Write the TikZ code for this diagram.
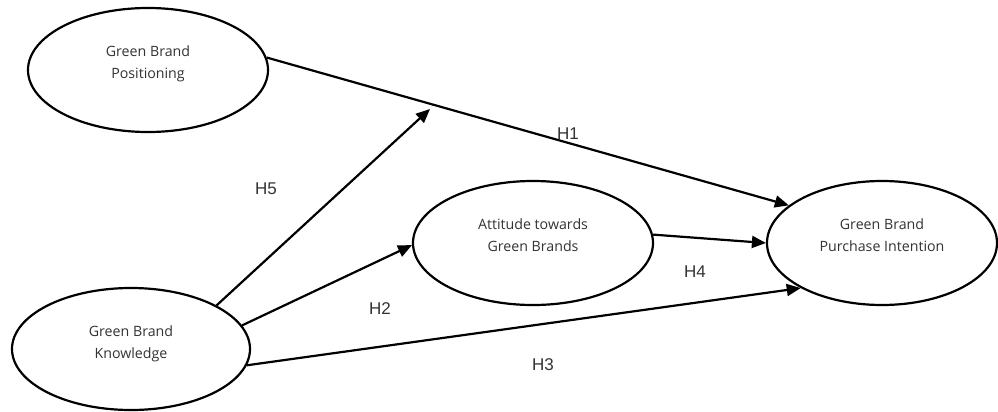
\documentclass[tikz,border=0pt]{standalone}
\usepackage{fontspec}
\setmainfont{Open Sans}
\newfontfamily\labfont{Liberation Sans}
\usetikzlibrary{arrows.meta,shapes.geometric}
\definecolor{txt}{HTML}{333333}
\begin{document}
\begin{tikzpicture}[x=1pt,y=-1pt,
  construct/.style={draw=black,line width=2.2pt,ellipse,fill=white,inner sep=0pt},
  ctext/.style={font=\fontsize{14.2}{22.5}\selectfont,text=txt,align=center},
  link/.style={line width=2.2pt,-{Triangle[length=14pt,width=12pt]}},
  hyp/.style={font=\labfont\fontsize{17}{20}\selectfont,text=txt}]
\path[use as bounding box] (0,0) rectangle (998,412);
\node[construct,minimum width=240pt,minimum height=124pt] (gbp) at (148,70) {};
\node[construct,minimum width=238pt,minimum height=122pt] (gbk) at (131,349) {};
\node[construct,minimum width=240pt,minimum height=124pt] (att) at (533,243) {};
\node[construct,minimum width=230pt,minimum height=124pt] (gbpi) at (882,243) {};
\node[ctext] (gbpt) at (148,64) {Green Brand\\Positioning};
\node[ctext] (gbkt) at (131,344) {Green Brand\\Knowledge};
\node[ctext] (attt) at (533,235) {Attitude towards\\Green Brands};
\node[ctext] (gbpit) at (882,235) {Green Brand\\Purchase Intention};
\coordinate (h5end) at (430,109);
\draw[link] (gbp.6) -- (gbpi.158);
\draw[link] (gbk.27) -- (h5end);
\draw[link] (gbk.12) -- (att.181);
\draw[link] (att.4) -- (gbpi.180);
\draw[link] (gbk.-8.6) -- (gbpi.209);
\node[hyp] (h1) at (568,134) {H1};
\node[hyp] (h5) at (266,189) {H5};
\node[hyp] (h2) at (380,309) {H2};
\node[hyp] (h4) at (695,272) {H4};
\node[hyp] (h3) at (543,365) {H3};
\end{tikzpicture}
\end{document}
